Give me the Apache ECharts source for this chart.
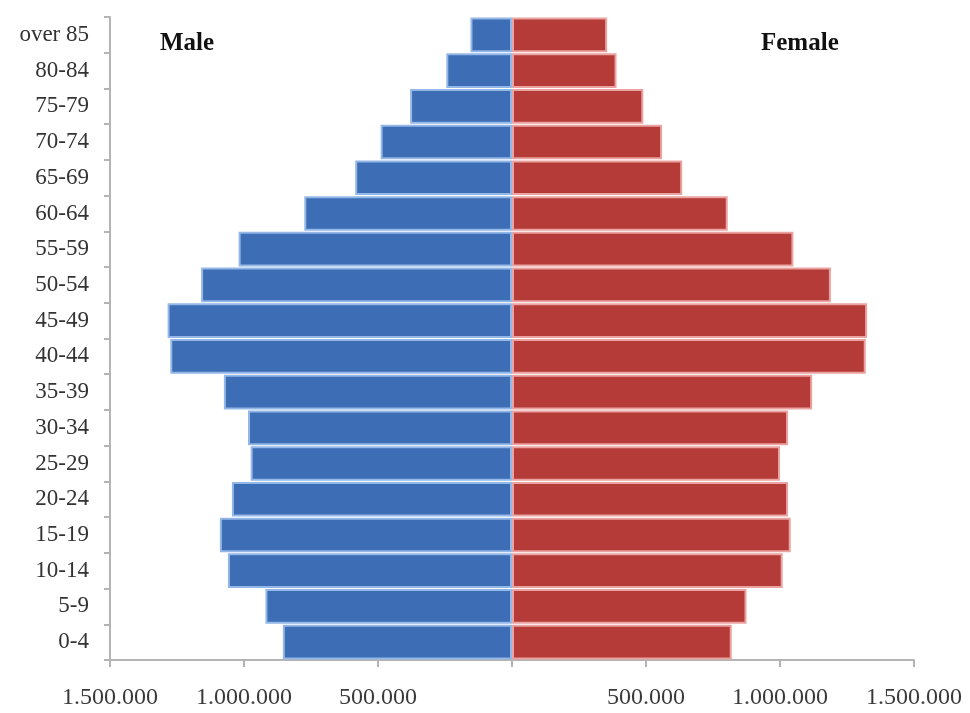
<!DOCTYPE html>
<html>
<head>
<meta charset="utf-8">
<title>Population pyramid</title>
<script src="https://cdn.jsdelivr.net/npm/echarts@6/dist/echarts.min.js"></script>
<style>
  html, body { margin: 0; padding: 0; background: #ffffff; }
  #chart { width: 970px; height: 713px; }
</style>
</head>
<body>
<div id="chart"></div>
<script>
// Age groups, youngest first (bottom of the pyramid)
const ageGroups = ['0-4', '5-9', '10-14', '15-19', '20-24', '25-29', '30-34', '35-39',
  '40-44', '45-49', '50-54', '55-59', '60-64', '65-69', '70-74', '75-79', '80-84', 'over 85'];

// Population by age group
const male = [855000, 920000, 1060000, 1090000, 1045000, 975000, 985000, 1075000,
  1275000, 1285000, 1160000, 1020000, 775000, 585000, 490000, 380000, 245000, 155000];
const female = [820000, 875000, 1010000, 1040000, 1030000, 1000000, 1030000, 1120000,
  1320000, 1325000, 1190000, 1050000, 805000, 635000, 560000, 490000, 390000, 355000];

// Axis ticks
const axisMax = 1500000;
const axisStep = 500000;

function formatThousands(v) {
  const n = Math.abs(Math.round(v));
  if (n === 0) return '';
  return String(n).replace(/\B(?=(\d{3})+(?!\d))/g, '.');
}

const chart = echarts.init(document.getElementById('chart'), null, { renderer: 'canvas' });

const serif = '"Liberation Serif", "Times New Roman", serif';

chart.setOption({
  animation: false,
  backgroundColor: '#ffffff',
  grid: { left: 110, right: 56, top: 17, bottom: 53, containLabel: false },
  xAxis: {
    type: 'value',
    min: -axisMax,
    max: axisMax,
    interval: axisStep,
    splitLine: { show: false },
    axisLine: { show: true, lineStyle: { color: '#b4b4b4', width: 2 } },
    axisTick: { show: true, length: 7, lineStyle: { color: '#b4b4b4', width: 2 } },
    axisLabel: {
      formatter: formatThousands,
      fontFamily: serif,
      fontSize: 24,
      color: '#3a3a3a',
      margin: 26
    }
  },
  yAxis: {
    type: 'category',
    data: ageGroups,
    axisLine: { show: true, onZero: false, lineStyle: { color: '#b4b4b4', width: 2 } },
    axisTick: { show: true, length: 6, lineStyle: { color: '#b4b4b4', width: 2 } },
    axisLabel: {
      fontFamily: serif,
      fontSize: 23,
      color: '#333333',
      margin: 21
    }
  },
  series: [
    {
      name: 'Male',
      type: 'bar',
      stack: 'pop',
      barCategoryGap: '3%',
      data: male.map(v => -v),
      itemStyle: { color: '#3d6db4', borderColor: '#93b7e6', borderWidth: 2 }
    },
    {
      name: 'Female',
      type: 'bar',
      stack: 'pop',
      barCategoryGap: '3%',
      data: female,
      itemStyle: { color: '#b53b38', borderColor: '#eaa3a0', borderWidth: 2 }
    }
  ],
  graphic: [
    {
      type: 'text', left: 160, top: 31,
      style: { text: 'Male', font: 'bold 25px ' + serif, fill: '#111111' }
    },
    {
      type: 'text', left: 761, top: 31,
      style: { text: 'Female', font: 'bold 25px ' + serif, fill: '#111111' }
    }
  ]
});
</script>
</body>
</html>
